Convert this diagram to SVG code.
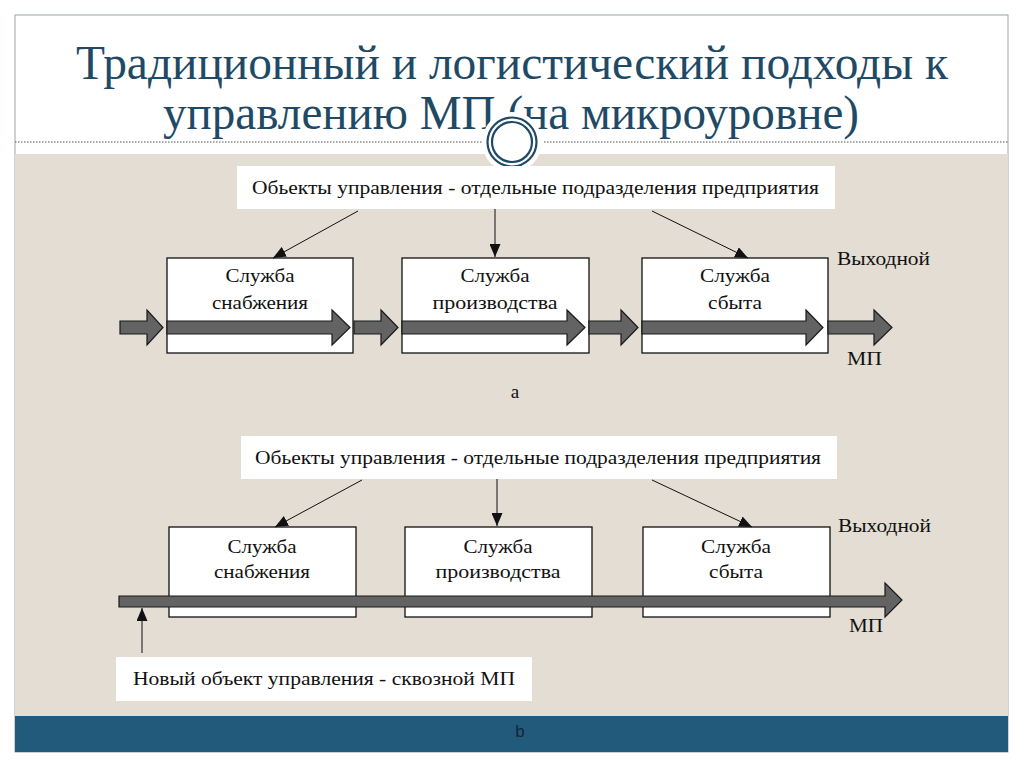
<svg xmlns="http://www.w3.org/2000/svg" width="1024" height="767" viewBox="0 0 1024 767">
<defs>
<style>
.t{font-family:"Liberation Serif","Times New Roman",serif;fill:#111;font-size:19px}
.ttl{font-family:"Liberation Serif","Times New Roman",serif;fill:#1f4a66;font-size:48px}
.box{fill:#fff;stroke:#111;stroke-width:1.3}
.lbl{fill:#fff}
.blk{fill:#636363;stroke:#1a1a1a;stroke-width:1.2}
.con{stroke:#111;stroke-width:1;fill:none}
</style>
<marker id="ah" viewBox="0 0 13 11" refX="13" refY="5.5" markerWidth="13" markerHeight="11" markerUnits="userSpaceOnUse" orient="auto">
<path d="M0,0 L13,5.5 L0,11 Z" fill="#111"/>
</marker>
</defs>
<rect x="0" y="0" width="1024" height="767" fill="#fff"/>
<rect x="15" y="15" width="993" height="737" fill="#fff" stroke="#9aa3aa" stroke-width="1"/>
<rect x="15" y="154" width="993" height="562" fill="#e3ddd3"/>
<rect x="15" y="716" width="993" height="36" fill="#225a7c"/>
<g id="title">
<text class="ttl" x="512" y="79" text-anchor="middle" textLength="872" lengthAdjust="spacingAndGlyphs">Традиционный и логистический подходы к</text>
<text class="ttl" x="511" y="129" text-anchor="middle" textLength="696" lengthAdjust="spacingAndGlyphs">управлению МП (на микроуровне)</text>
</g>
<g id="divider">
<line x1="15" y1="142" x2="484" y2="142" stroke="#555" stroke-width="1" stroke-dasharray="1.5,1.5"/>
<line x1="544" y1="142" x2="1008" y2="142" stroke="#555" stroke-width="1" stroke-dasharray="1.5,1.5"/>
<circle cx="512" cy="142" r="30" fill="#fff"/>
<circle cx="512" cy="142" r="24.5" fill="none" stroke="#1f4a66" stroke-width="2.2"/>
<circle cx="512" cy="142" r="20" fill="none" stroke="#1f4a66" stroke-width="2.2"/>
</g>
<g id="objects-a">
<rect class="lbl" x="237" y="166" width="598" height="43"/>
<text class="t" x="252" y="194" textLength="567" lengthAdjust="spacingAndGlyphs">Обьекты управления - отдельные подразделения предприятия</text>
</g>
<g id="supply-a">
<rect class="box" x="167" y="258" width="186" height="95"/>
<text class="t" x="260" y="282" text-anchor="middle" textLength="69" lengthAdjust="spacingAndGlyphs">Служба</text>
<text class="t" x="260" y="309" text-anchor="middle" textLength="96" lengthAdjust="spacingAndGlyphs">снабжения</text>
</g>
<g id="production-a">
<rect class="box" x="402" y="258" width="187" height="95"/>
<text class="t" x="495" y="282" text-anchor="middle" textLength="69" lengthAdjust="spacingAndGlyphs">Служба</text>
<text class="t" x="495" y="309" text-anchor="middle" textLength="125" lengthAdjust="spacingAndGlyphs">производства</text>
</g>
<g id="sales-a">
<rect class="box" x="642" y="258" width="186" height="95"/>
<text class="t" x="735" y="282" text-anchor="middle" textLength="70" lengthAdjust="spacingAndGlyphs">Служба</text>
<text class="t" x="735" y="309" text-anchor="middle" textLength="54" lengthAdjust="spacingAndGlyphs">сбыта</text>
</g>
<g id="flow-a">
<path class="blk" d="M120,321 H147 V310 L163,327.5 L147,345 V334 H120 Z"/>
<path class="blk" d="M167,321 H332 V310 L350,327.5 L332,345 V334 H167 Z"/>
<path class="blk" d="M354,321 H381 V310 L398,327.5 L381,345 V334 H354 Z"/>
<path class="blk" d="M402,321 H567 V310 L585,327.5 L567,345 V334 H402 Z"/>
<path class="blk" d="M589,321 H621 V310 L638,327.5 L621,345 V334 H589 Z"/>
<path class="blk" d="M642,321 H806 V310 L823,327.5 L806,345 V334 H642 Z"/>
<path class="blk" d="M828,321 H874 V310 L892,327.5 L874,345 V334 H828 Z"/>
<text class="t" x="837" y="265" textLength="93" lengthAdjust="spacingAndGlyphs">Выходной</text>
<text class="t" x="847" y="365" textLength="35" lengthAdjust="spacingAndGlyphs">МП</text>
<text class="t" x="515" y="398" text-anchor="middle">а</text>
</g>
<g id="objects-b">
<rect class="lbl" x="241" y="436" width="596" height="43"/>
<text class="t" x="255" y="464" textLength="566" lengthAdjust="spacingAndGlyphs">Обьекты управления - отдельные подразделения предприятия</text>
</g>
<g id="supply-b">
<rect class="box" x="169" y="527" width="187" height="90"/>
<text class="t" x="262" y="553" text-anchor="middle" textLength="69" lengthAdjust="spacingAndGlyphs">Служба</text>
<text class="t" x="262" y="578" text-anchor="middle" textLength="96" lengthAdjust="spacingAndGlyphs">снабжения</text>
</g>
<g id="production-b">
<rect class="box" x="405" y="527" width="187" height="90"/>
<text class="t" x="498" y="553" text-anchor="middle" textLength="69" lengthAdjust="spacingAndGlyphs">Служба</text>
<text class="t" x="498" y="578" text-anchor="middle" textLength="125" lengthAdjust="spacingAndGlyphs">производства</text>
</g>
<g id="sales-b">
<rect class="box" x="643" y="527" width="187" height="90"/>
<text class="t" x="736" y="553" text-anchor="middle" textLength="70" lengthAdjust="spacingAndGlyphs">Служба</text>
<text class="t" x="736" y="578" text-anchor="middle" textLength="54" lengthAdjust="spacingAndGlyphs">сбыта</text>
</g>
<g id="flow-b">
<path class="blk" d="M119,596 H885 V583 L902,600 L885,617 V607 H119 Z"/>
<text class="t" x="838" y="532" textLength="93" lengthAdjust="spacingAndGlyphs">Выходной</text>
<text class="t" x="849" y="632" textLength="34" lengthAdjust="spacingAndGlyphs">МП</text>
</g>
<g id="new-object">
<rect class="lbl" x="116" y="657" width="416" height="44"/>
<text class="t" x="133" y="685" textLength="382" lengthAdjust="spacingAndGlyphs">Новый объект управления - сквозной МП</text>
</g>
<g id="connectors">
<line class="con" x1="358" y1="211" x2="273" y2="258" marker-end="url(#ah)"/>
<line class="con" x1="495" y1="209" x2="495" y2="257" marker-end="url(#ah)"/>
<line class="con" x1="652" y1="211" x2="748" y2="258" marker-end="url(#ah)"/>
<line class="con" x1="362" y1="480" x2="275" y2="527" marker-end="url(#ah)"/>
<line class="con" x1="497" y1="479" x2="497" y2="526" marker-end="url(#ah)"/>
<line class="con" x1="652" y1="480" x2="752" y2="527" marker-end="url(#ah)"/>
<line class="con" x1="142" y1="653" x2="142" y2="608" marker-end="url(#ah)"/>
</g>
<text x="520" y="737" text-anchor="middle" font-family="Liberation Sans, Arial, sans-serif" font-size="17" fill="#13263a">b</text>
</svg>
